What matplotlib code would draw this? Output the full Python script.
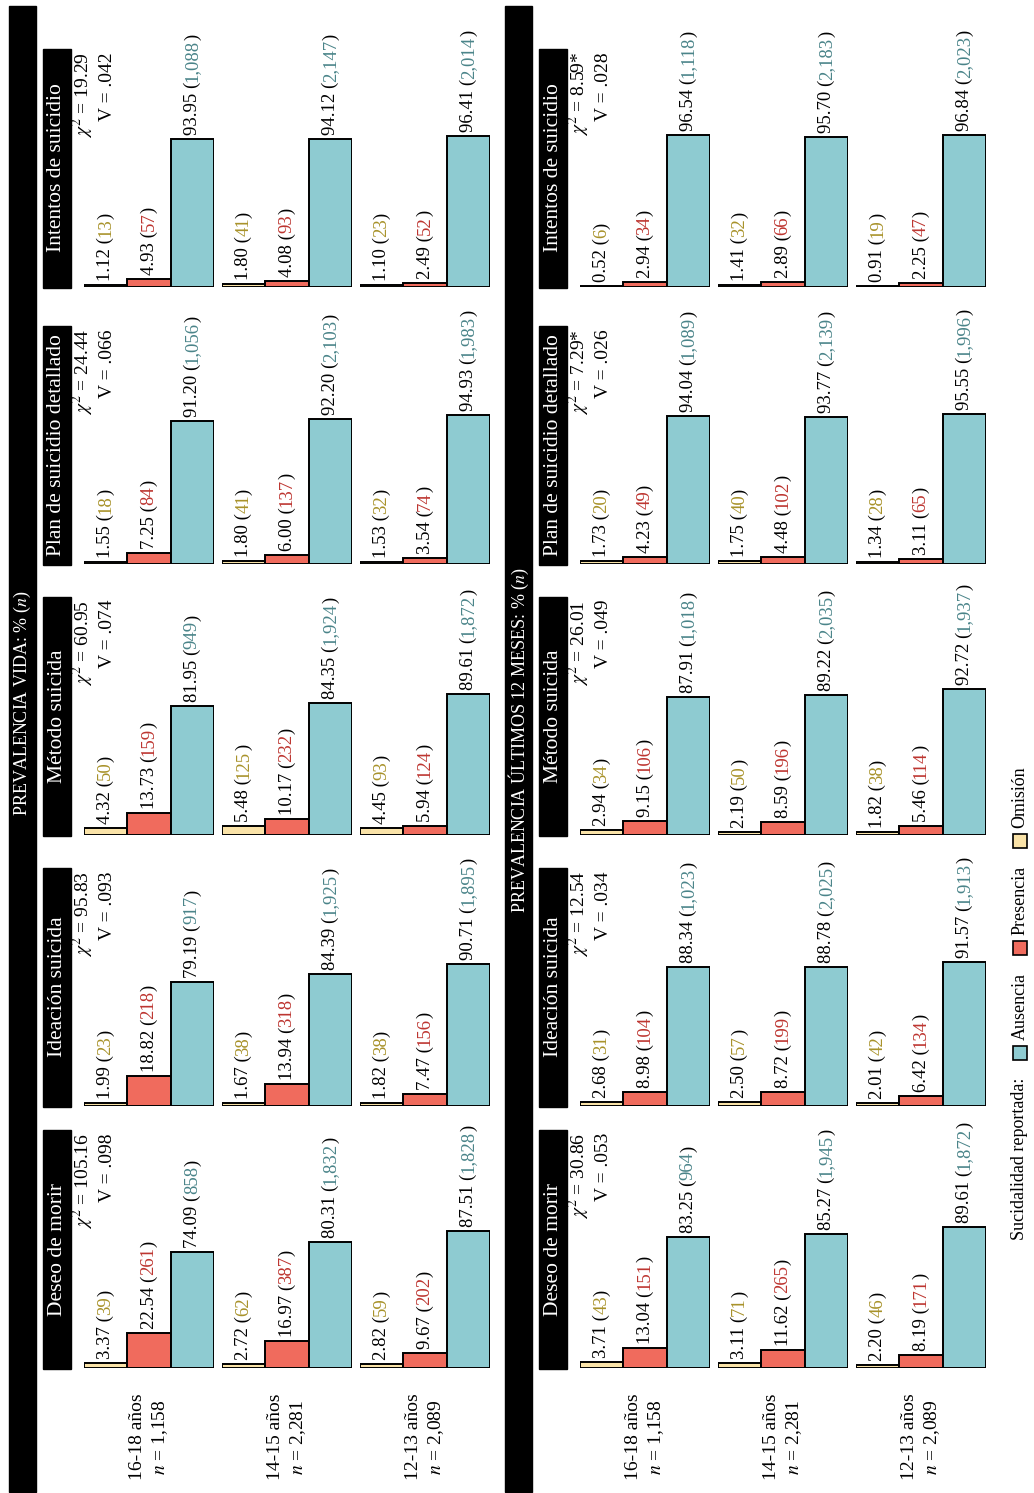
import matplotlib
matplotlib.use('Agg')
import matplotlib.pyplot as plt
from matplotlib.patches import Rectangle

plt.rcParams['font.family'] = ['Liberation Serif', 'DejaVu Serif']
plt.rcParams['mathtext.fontset'] = 'stix'

# Categories and groups
categories = ['Deseo de morir', 'Ideación suicida', 'Método suicida',
              'Plan de suicidio detallado', 'Intentos de suicidio']
age_groups = ['16-18 años', '14-15 años', '12-13 años']
age_n = ['1,158', '2,281', '2,089']
panel_titles = [r'PREVALENCIA VIDA: % ($n$)', r'PREVALENCIA ÚLTIMOS 12 MESES: % ($n$)']

# Prevalencia vida (rows = age groups, columns = categories)
vida_omision = [[3.37, 1.99, 4.32, 1.55, 1.12],
                [2.72, 1.67, 5.48, 1.80, 1.80],
                [2.82, 1.82, 4.45, 1.53, 1.10]]
vida_omision_n = [['39', '23', '50', '18', '13'],
                  ['62', '38', '125', '41', '41'],
                  ['59', '38', '93', '32', '23']]
vida_presencia = [[22.54, 18.82, 13.73, 7.25, 4.93],
                  [16.97, 13.94, 10.17, 6.00, 4.08],
                  [9.67, 7.47, 5.94, 3.54, 2.49]]
vida_presencia_n = [['261', '218', '159', '84', '57'],
                    ['387', '318', '232', '137', '93'],
                    ['202', '156', '124', '74', '52']]
vida_ausencia = [[74.09, 79.19, 81.95, 91.20, 93.95],
                 [80.31, 84.39, 84.35, 92.20, 94.12],
                 [87.51, 90.71, 89.61, 94.93, 96.41]]
vida_ausencia_n = [['858', '917', '949', '1,056', '1,088'],
                   ['1,832', '1,925', '1,924', '2,103', '2,147'],
                   ['1,828', '1,895', '1,872', '1,983', '2,014']]
vida_chi = ['105.16', '95.83', '60.95', '24.44', '19.29']
vida_v = ['.098', '.093', '.074', '.066', '.042']

# Prevalencia ultimos 12 meses
mes_omision = [[3.71, 2.68, 2.94, 1.73, 0.52],
               [3.11, 2.50, 2.19, 1.75, 1.41],
               [2.20, 2.01, 1.82, 1.34, 0.91]]
mes_omision_n = [['43', '31', '34', '20', '6'],
                 ['71', '57', '50', '40', '32'],
                 ['46', '42', '38', '28', '19']]
mes_presencia = [[13.04, 8.98, 9.15, 4.23, 2.94],
                 [11.62, 8.72, 8.59, 4.48, 2.89],
                 [8.19, 6.42, 5.46, 3.11, 2.25]]
mes_presencia_n = [['151', '104', '106', '49', '34'],
                   ['265', '199', '196', '102', '66'],
                   ['171', '134', '114', '65', '47']]
mes_ausencia = [[83.25, 88.34, 87.91, 94.04, 96.54],
                [85.27, 88.78, 89.22, 93.77, 95.70],
                [89.61, 91.57, 92.72, 95.55, 96.84]]
mes_ausencia_n = [['964', '1,023', '1,018', '1,089', '1,118'],
                  ['1,945', '2,025', '2,035', '2,139', '2,183'],
                  ['1,872', '1,913', '1,937', '1,996', '2,023']]
mes_chi = ['30.86', '12.54', '26.01', '7.29*', '8.59*']
mes_v = ['.053', '.034', '.049', '.026', '.028']

panels = [
    (vida_omision, vida_omision_n, vida_presencia, vida_presencia_n,
     vida_ausencia, vida_ausencia_n, vida_chi, vida_v),
    (mes_omision, mes_omision_n, mes_presencia, mes_presencia_n,
     mes_ausencia, mes_ausencia_n, mes_chi, mes_v),
]

bar_colors = ['#FAE3A8', '#F06B5D', '#8ECBD1']
count_colors = ['#A8922A', '#BD3530', '#4A8489']

# layout (pixels)
W, H = 1034, 1493
baselines = [1368, 1106, 835, 564, 287]
row_x = [84, 222, 360]
panel_dx = [0, 496]
title_y = [703, 740]
cell_w, cell_h = 130, 157

fig = plt.figure(figsize=(W / 100, H / 100), dpi=100)
ov = fig.add_axes([0, 0, 1, 1])
ov.set_xlim(0, W)
ov.set_ylim(H, 0)
ov.axis('off')

for p, data in enumerate(panels):
    om, om_n, pr, pr_n, au, au_n, chi, vv = data
    dx = panel_dx[p]
    ov.add_patch(Rectangle((9 + dx, 6), 27, 1486, color='black'))
    ov.text(22.5 + dx, title_y[p], panel_titles[p], rotation=90, color='white',
            ha='center', va='center', fontsize=13)

    for c, cat in enumerate(categories):
        base = baselines[c]
        ov.add_patch(Rectangle((43 + dx, base - 238), 28, 239, color='black'))
        ov.text(57 + dx, base - 119, cat, rotation=90, color='white',
                ha='center', va='center', fontsize=15.5)
        ov.text(83 + dx, base - 235, r'$\chi^2$ = ' + chi[c], rotation=90,
                ha='center', va='top', fontsize=14)
        ov.text(107 + dx, base - 235, 'V = ' + vv[c], rotation=90,
                ha='center', va='top', fontsize=14)

        for r in range(3):
            vals = [om[r][c], pr[r][c], au[r][c]]
            counts = [om_n[r][c], pr_n[r][c], au_n[r][c]]
            ax = fig.add_axes([(row_x[r] + dx) / W, (H - base) / H,
                               cell_w / W, cell_h / H])
            ax.bar([0, 1, 2], vals, width=1, color=bar_colors,
                   edgecolor='black', linewidth=1.4)
            ax.set_xlim(-0.5, 2.5)
            ax.set_ylim(0, 100)
            ax.axis('off')
            for i, (v, n) in enumerate(zip(vals, counts)):
                a1 = ax.annotate(f'{v:.2f} (', xy=(i, v), xytext=(0, 4),
                                 textcoords='offset pixels', rotation=90,
                                 ha='center', va='bottom', fontsize=13.5,
                                 annotation_clip=False)
                a2 = ax.annotate(n, xy=(0.5, 1), xycoords=a1, rotation=90,
                                 ha='center', va='bottom', fontsize=13.5,
                                 color=count_colors[i], annotation_clip=False)
                ax.annotate(')', xy=(0.5, 1), xycoords=a2, rotation=90,
                            ha='center', va='bottom', fontsize=13.5,
                            annotation_clip=False)

    for r in range(3):
        ov.text(138 + row_x[r] - 84 + dx, 1437, age_groups[r], rotation=90,
                ha='center', va='center', fontsize=14)
        ov.text(160 + row_x[r] - 84 + dx, 1437, r'$n$ = ' + age_n[r], rotation=90,
                ha='center', va='center', fontsize=14)

# legend
renderer = fig.canvas.get_renderer()
y = 1240
t = ov.text(1020, y, 'Sucidalidad reportada:', rotation=90, ha='center',
            va='bottom', fontsize=13)
y -= t.get_window_extent(renderer).height + 18
for lab, col in zip(['Ausencia', 'Presencia', 'Omisión'],
                    [bar_colors[2], bar_colors[1], bar_colors[0]]):
    ov.add_patch(Rectangle((1013, y - 14), 14, 14, facecolor=col,
                           edgecolor='black', linewidth=1.2))
    y -= 14 + 6
    t = ov.text(1020, y, lab, rotation=90, ha='center', va='bottom', fontsize=13)
    y -= t.get_window_extent(renderer).height + 18

fig.savefig('out.png', dpi=100)
